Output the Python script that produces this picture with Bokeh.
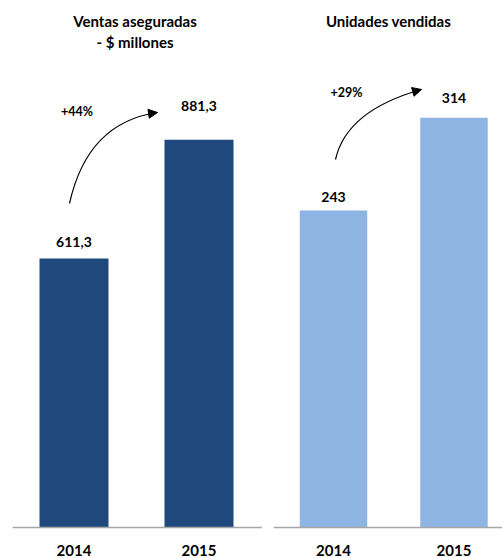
from bokeh.plotting import figure
from bokeh.layouts import row
from bokeh.models import ColumnDataSource, Range1d, Arrow, NormalHead, Span
from bokeh.core.properties import value
from bokeh.embed import file_html
from bokeh.resources import INLINE

# ---- data ----
years = ["2014", "2015"]
ventas = [611.3, 881.3]
ventas_labels = ["611,3", "881,3"]
unidades = [243, 314]
unidades_labels = ["243", "314"]
title_left = ["Ventas aseguradas", "- $ millones"]
title_right = ["Unidades vendidas"]
growth_left = "+44%"
growth_right = "+29%"

FONT = "Lato"
DARK = "#1F497D"
LIGHT = "#8EB4E3"
H = 558
BASE = 527          # canvas y of baseline
FIX = -6            # baseline correction for text rendering


def make_panel(width, border_left, xs, xe, ppu, page_x0):
    ystart = -(H - BASE) / ppu
    yend = BASE / ppu
    p = figure(width=width, height=H, output_backend="svg", toolbar_location=None,
               x_range=Range1d(xs, xe), y_range=Range1d(ystart, yend),
               x_axis_location=None, y_axis_location=None,
               min_border_left=border_left, min_border_right=0,
               min_border_top=0, min_border_bottom=0)
    p.outline_line_color = None
    p.xgrid.visible = False
    p.ygrid.visible = False
    p.background_fill_color = "white"
    p.border_fill_color = "white"
    p.add_layout(Span(location=0, dimension="width", line_color="#A6A6A6",
                      line_width=1.5))
    fw = width - border_left

    def dx(ref_x):
        cx = ref_x - page_x0
        return xs + (cx - border_left) / fw * (xe - xs)

    def dy(ref_y):
        return (BASE - ref_y) / ppu

    return p, dx, dy


def add_bars(p, vals, labels, color, bw, gaps):
    src = ColumnDataSource(dict(x=list(range(len(vals))), top=vals, lab=labels,
                                off=[-g + FIX for g in gaps], yr=years,
                                zero=[0] * len(vals)))
    p.vbar(x="x", top="top", width=bw, bottom=0, source=src, fill_color=color,
           line_color=None)
    p.text(x="x", y="top", text="lab", y_offset="off", source=src,
           text_align="center", text_baseline="alphabetic",
           text_font=value(FONT), text_font_style="bold", text_font_size="14px",
           text_color="black")
    p.text(x="x", y="zero", text="yr", y_offset=29 + FIX, source=src,
           text_align="center", text_baseline="alphabetic",
           text_font=value(FONT), text_font_style="bold", text_font_size="15px",
           text_color="black")


def add_text(p, x, y, t, size):
    p.text(x=[x], y=[y], text=[t], y_offset=FIX, text_align="center",
           text_baseline="alphabetic",
           text_font=value(FONT), text_font_style="bold", text_font_size=size,
           text_color="black")


def add_arrow(p, dx, dy, p0, c, p2):
    p.quadratic(x0=[dx(p0[0])], y0=[dy(p0[1])], x1=[dx(p2[0])], y1=[dy(p2[1])],
                cx=[dx(c[0])], cy=[dy(c[1])], line_color="black", line_width=1.2)
    sx = p2[0] - 0.08 * (p2[0] - c[0])
    sy = p2[1] - 0.08 * (p2[1] - c[1])
    p.add_layout(Arrow(x_start=dx(sx), y_start=dy(sy), x_end=dx(p2[0]), y_end=dy(p2[1]),
                       line_color="black", line_width=1.2,
                       end=NormalHead(size=9, fill_color="black", line_color="black")))


# ---- left panel ----
p1, dx1, dy1 = make_panel(262, 12, -0.492, 1.508, 0.44, 0)
add_bars(p1, ventas, ventas_labels, DARK, 0.552, [11, 28])
add_text(p1, dx1(134.5), dy1(26), title_left[0], "15px")
add_text(p1, dx1(134.5), dy1(47), title_left[1], "15px")
add_text(p1, dx1(76.5), dy1(117), growth_left, "12.5px")
add_arrow(p1, dx1, dy1, (69, 203), (87, 122), (157, 112))

# ---- right panel ----
p2, dx2, dy2 = make_panel(240, 11, -0.498, 1.4025, 1.305, 262)
add_bars(p2, unidades, unidades_labels, LIGHT, 0.56, [7, 14])
add_text(p2, dx2(388), dy2(26), title_right[0], "15px")
add_text(p2, dx2(346), dy2(98), growth_right, "12.5px")
add_arrow(p2, dx2, dy2, (335, 159), (346, 110), (421, 89))

layout = row(p1, p2)
open("out.html", "w").write(file_html(layout, INLINE))
